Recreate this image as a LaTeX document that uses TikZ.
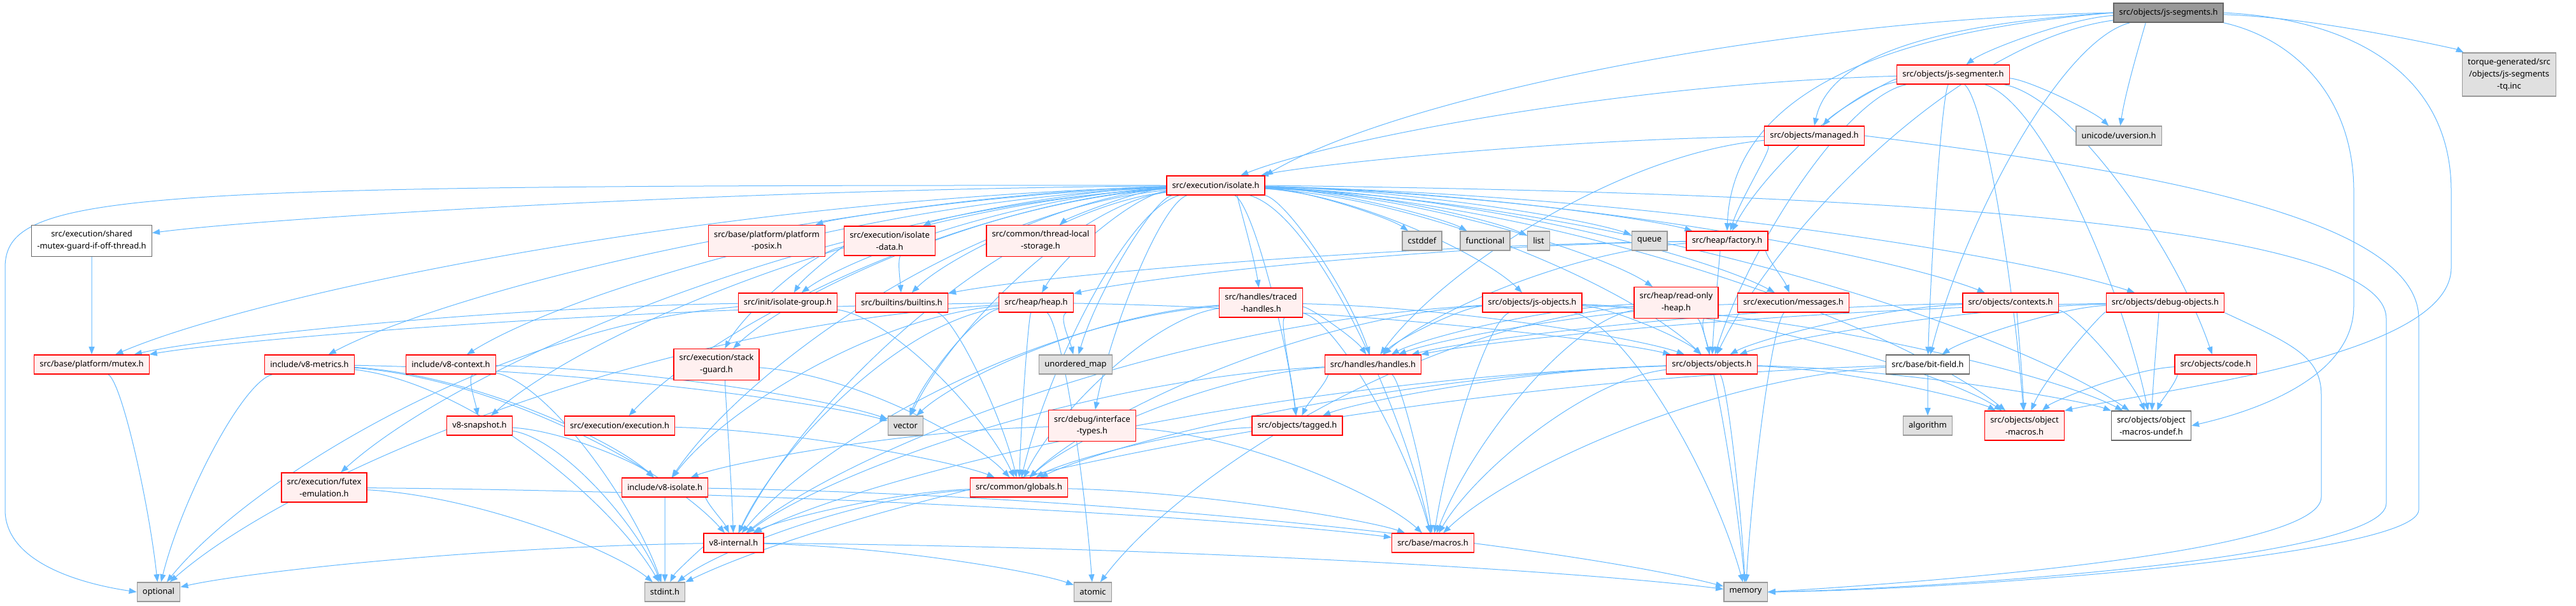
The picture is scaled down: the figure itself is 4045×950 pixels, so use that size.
\documentclass[tikz,border=0pt]{standalone}
\usepackage{fontspec}
\setmainfont{Noto Sans}
\usetikzlibrary{arrows.meta,backgrounds,calc}
\definecolor{edgeblue}{HTML}{63B8FF}
\definecolor{projfill}{HTML}{FFF0F0}
\definecolor{sysfill}{HTML}{E0E0E0}
\definecolor{sysline}{HTML}{999999}
\definecolor{rootfill}{HTML}{999999}
\definecolor{rootline}{HTML}{666666}
\tikzset{
  file/.style={
    rectangle, line width=0.4mm, inner xsep=2.6mm, inner ysep=2.6mm,
    minimum height=9mm, align=center, font=\fontsize{11}{16}\selectfont
  },
  proj/.style={file, draw=red, fill=projfill},
  sys/.style={file, draw=sysline, fill=sysfill},
  plain/.style={file, draw=rootline, fill=white},
  root/.style={file, draw=rootline, fill=rootfill},
  incl/.style={-{Triangle[length=3.6mm,width=2.7mm]}, draw=edgeblue, line width=0.3mm}
}
% curved include edge, leaving sideways and landing from above
\newcommand{\dep}[2]{%
  \path ($(#1)!.45!(#2)$) coordinate (ca) ($(#1)!.08!(#2)$) coordinate (cb)
        ($(#1)!.6!(#2)$) coordinate (cc) ($(#2)!.15!(#1)$) coordinate (cd);
  \draw[incl] (#1) .. controls (ca |- cb) and (cd |- cc) .. (#2);}

\begin{document}
\begin{tikzpicture}[x=0.3mm, y=-0.3mm]
  \useasboundingbox (0,0) rectangle (4045,950);

  % top rows
  \node[root] (segments) at (3405,20) {src/objects/js-segments.h};
  \node[proj] (segmenter) at (3067,117) {src/objects/js-segmenter.h};
  \node[sys]  (torque) at (3940,117) {torque-generated/src\\/objects/js-segments\\-tq.inc};
  \node[proj] (managed) at (2849,213) {src/objects/managed.h};
  \node[sys]  (uversion) at (3327,213) {unicode/uversion.h};
  \node[proj] (isolate) at (1909,291) {src/execution/isolate.h};

  % headers pulled in by isolate.h
  \node[plain] (sharedmutex) at (144,378) {src/execution/shared\\-mutex-guard-if-off-thread.h};
  \node[proj] (posix) at (1204,378) {src/base/platform/platform\\-posix.h};
  \node[proj] (isolatedata) at (1397,378) {src/execution/isolate\\-data.h};
  \node[proj] (tls) at (1634,378) {src/common/thread-local\\-storage.h};
  \node[sys]  (cstddef) at (2233,378) {cstddef};
  \node[sys]  (functional) at (2332,378) {functional};
  \node[sys]  (list) at (2416,378) {list};
  \node[sys]  (queue) at (2590,378) {queue};
  \node[proj] (factory) at (2712,378) {src/heap/factory.h};

  \node[proj] (isolategroup) at (1237,475) {src/init/isolate-group.h};
  \node[proj] (builtins) at (1416,475) {src/builtins/builtins.h};
  \node[proj] (heap) at (1627,475) {src/heap/heap.h};
  \node[proj] (traced) at (1980,475) {src/handles/traced\\-handles.h};
  \node[proj] (jsobjects) at (2406,475) {src/objects/js-objects.h};
  \node[proj] (readonly) at (2632,475) {src/heap/read-only\\-heap.h};
  \node[proj] (messages) at (2816,475) {src/execution/messages.h};
  \node[proj] (contexts) at (3157,475) {src/objects/contexts.h};
  \node[proj] (debugobjects) at (3400,475) {src/objects/debug-objects.h};

  \node[proj] (mutex) at (144,572) {src/base/platform/mutex.h};
  \node[proj] (metrics) at (486,572) {include/v8-metrics.h};
  \node[proj] (context) at (708,572) {include/v8-context.h};
  \node[proj] (stackguard) at (1125,572) {src/execution/stack\\-guard.h};
  \node[sys]  (unorderedmap) at (1689,572) {unordered\_map};
  \node[proj] (handles) at (2156,572) {src/handles/handles.h};
  \node[proj] (objects) at (2688,572) {src/objects/objects.h};
  \node[plain] (bitfield) at (3027,572) {src/base/bit-field.h};
  \node[proj] (code) at (3479,572) {src/objects/code.h};

  \node[proj] (snapshot) at (753,668) {v8-snapshot.h};
  \node[proj] (execution) at (973,668) {src/execution/execution.h};
  \node[sys]  (vector) at (1422,668) {vector};
  \node[proj] (interfacetypes) at (1715,668) {src/debug/interface\\-types.h};
  \node[proj] (tagged) at (2037,668) {src/objects/tagged.h};
  \node[sys]  (algorithm) at (3027,668) {algorithm};
  \node[proj] (objmacros) at (3179,668) {src/objects/object\\-macros.h};
  \node[plain] (objundef) at (3378,668) {src/objects/object\\-macros-undef.h};

  \node[proj] (futex) at (509,765) {src/execution/futex\\-emulation.h};
  \node[proj] (v8isolate) at (1044,765) {include/v8-isolate.h};
  \node[proj] (globals) at (1600,765) {src/common/globals.h};
  \node[proj] (v8internal) at (1152,852) {v8-internal.h};
  \node[proj] (macros) at (2250,852) {src/base/macros.h};

  % system headers at the bottom
  \node[sys] (optional) at (249,929) {optional};
  \node[sys] (stdint) at (1044,929) {stdint.h};
  \node[sys] (atomic) at (1716,929) {atomic};
  \node[sys] (memory) at (2741,929) {memory};

  \begin{scope}[on background layer]
    % js-segments.h
    \foreach \t in {segmenter,uversion,torque,objects,bitfield}
      \dep{segments}{\t};
    \draw[incl] (segments.west) .. controls (2800,30) and (2200,150) .. (isolate.north east);
    \draw[incl] (segments.west) .. controls (3000,40) and (2870,100) .. (managed.north);
    \draw[incl] (segments.west) .. controls (2950,50) and (2720,150) .. (factory.north);
    \draw[incl] (segments.east) .. controls (3700,30) and (3849,120) .. (3849,300)
      -- (3849,420) .. controls (3849,560) and (3400,610) .. (objmacros.north east);
    \draw[incl] (segments.south east) .. controls (3600,60) and (3696,150) .. (3696,300)
      -- (3696,480) .. controls (3696,600) and (3520,650) .. (objundef.east);

    % js-segmenter.h
    \foreach \t in {isolate,managed,factory,uversion,bitfield,objects,code,objmacros,objundef}
      \dep{segmenter}{\t};

    % managed.h
    \foreach \t in {isolate,factory,handles}
      \dep{managed}{\t};
    \draw[incl] (managed.east) .. controls (3300,260) and (3798,330) .. (3798,500)
      -- (3798,800) .. controls (3798,870) and (3100,925) .. (memory.east);

    % isolate.h
    \foreach \t in {sharedmutex,mutex,metrics,context,snapshot,futex,execution,
                    v8isolate,stackguard,isolategroup,posix,isolatedata,tls,builtins,
                    heap,vector,unorderedmap,interfacetypes,globals,v8internal,traced,
                    handles,tagged,macros,cstddef,functional,list,queue,factory,
                    jsobjects,readonly,messages,objects,contexts,debugobjects,
                    objmacros,objundef}
      \dep{isolate}{\t};
    \draw[incl] (isolate.west) .. controls (200,290) and (8,300) .. (8,420)
      -- (8,800) .. controls (8,880) and (120,915) .. (optional.west);
    \draw[incl] (isolate.east) .. controls (2700,300) and (3747,330) .. (3747,500)
      -- (3747,790) .. controls (3747,880) and (3000,925) .. (memory.east);

    % second level
    \foreach \t in {isolategroup,builtins,stackguard}
      \dep{isolatedata}{\t};
    \foreach \t in {mutex,globals,optional}
      \dep{isolategroup}{\t};
    \dep{builtins}{globals};
    \foreach \t in {vector,unorderedmap,v8isolate,globals,atomic,v8internal,mutex,optional,objects}
      \dep{heap}{\t};
    \foreach \t in {heap,builtins,messages,handles,objects}
      \dep{factory}{\t};
    \foreach \t in {handles,globals,v8internal,macros,tagged,objects,vector}
      \dep{traced}{\t};
    \foreach \t in {handles,objects,objmacros,objundef,globals,v8internal,macros,memory}
      \dep{jsobjects}{\t};
    \foreach \t in {objects,memory,macros,handles,atomic}
      \dep{readonly}{\t};
    \foreach \t in {handles,memory}
      \dep{messages}{\t};
    \foreach \t in {objmacros,objundef,handles,objects}
      \dep{contexts}{\t};
    \foreach \t in {objmacros,objundef,bitfield,handles,objects}
      \dep{debugobjects}{\t};
    \draw[incl] (debugobjects.south east) .. controls (3600,540) and (3645,560) .. (3645,620)
      -- (3645,780) .. controls (3645,870) and (3000,915) .. (memory.east);
    \foreach \t in {objmacros,objundef}
      \dep{code}{\t};

    % lower levels
    \dep{sharedmutex}{mutex};
    \dep{mutex}{optional};
    \foreach \t in {optional,stdint,v8isolate,v8internal,vector}
      \dep{metrics}{\t};
    \foreach \t in {snapshot,stdint,vector}
      \dep{context}{\t};
    \foreach \t in {v8isolate,stdint}
      \dep{snapshot}{\t};
    \foreach \t in {stdint,macros}
      \dep{futex}{\t};
    \foreach \t in {v8internal,globals}
      \dep{stackguard}{\t};
    \dep{execution}{globals};
    \foreach \t in {v8isolate,macros}
      \dep{interfacetypes}{\t};
    \foreach \t in {stdint,v8internal,memory}
      \dep{v8isolate}{\t};
    \foreach \t in {optional,stdint,atomic,memory}
      \dep{v8internal}{\t};
    \foreach \t in {v8internal,stdint,macros}
      \dep{globals}{\t};
    \foreach \t in {tagged,macros,globals,v8internal}
      \dep{handles}{\t};
    \foreach \t in {tagged,macros,memory,objmacros,objundef,globals,v8internal}
      \dep{objects}{\t};
    \dep{tagged}{globals};
    \foreach \t in {algorithm,stdint,macros}
      \dep{bitfield}{\t};
  \end{scope}
\end{tikzpicture}
\end{document}
